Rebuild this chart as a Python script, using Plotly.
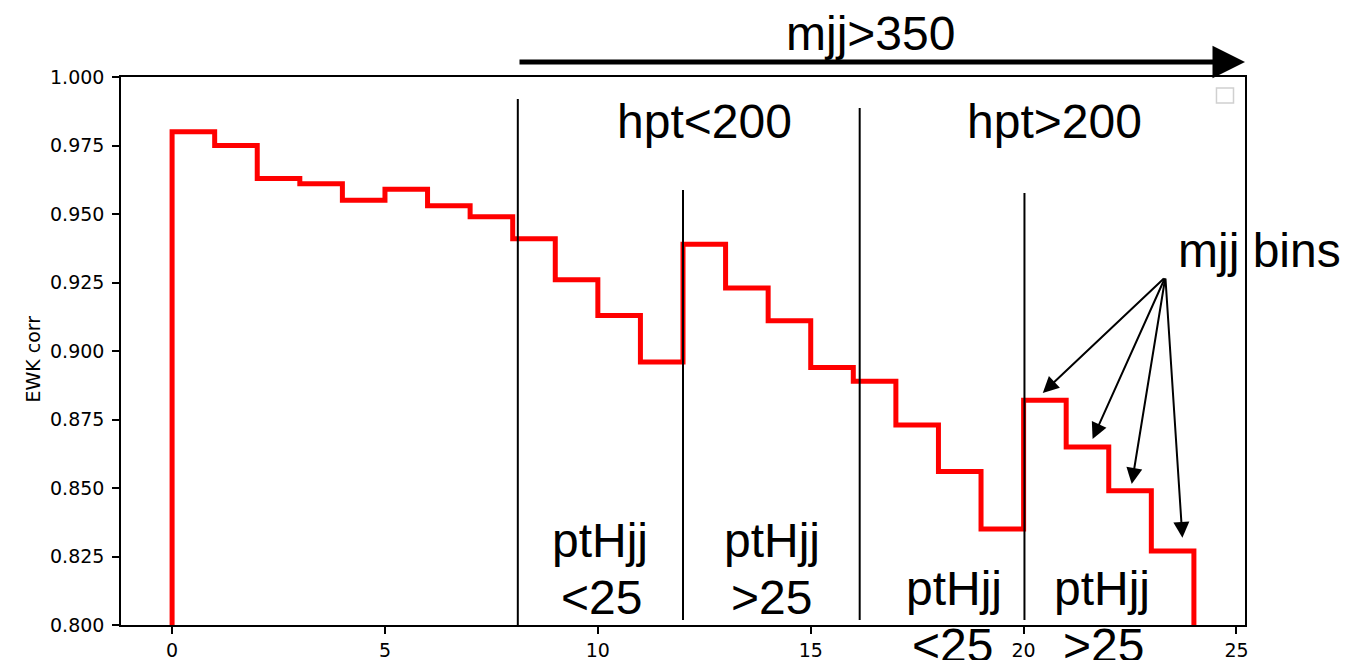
import plotly.graph_objects as go

# bin edges 0..24, EWK correction per bin
bin_edges = list(range(25))
ewk_corr = [0.980, 0.975, 0.963, 0.961, 0.955, 0.959, 0.953, 0.949,
            0.941, 0.926, 0.913, 0.896, 0.939, 0.923, 0.911, 0.894,
            0.889, 0.873, 0.856, 0.835, 0.882, 0.865, 0.849, 0.827]
x_ticks = [0, 5, 10, 15, 20, 25]
y_ticks = [0.800, 0.825, 0.850, 0.875, 0.900, 0.925, 0.950, 0.975, 1.000]
baseline = 0.0

# step outline like matplotlib histtype='step'
xs = [bin_edges[0]] + bin_edges[:-1] + [bin_edges[-1], bin_edges[-1]]
ys = [baseline] + ewk_corr + [ewk_corr[-1], baseline]

fig = go.Figure()
fig.add_trace(go.Scatter(x=xs, y=ys, mode="lines", line=dict(color="#ff0000", width=5, shape="hv"),
                         showlegend=False, hoverinfo="skip"))

TF = "Liberation Sans, Arial, Helvetica, sans-serif"
BIG = 48

# vertical separators
seps = [(8.12, 0.799, 0.992), (12.0, 0.8018, 0.9588), (16.15, 0.8018, 0.9887), (20.02, 0.8018, 0.9577)]
for sx, y0, y1 in seps:
    fig.add_shape(type="line", xref="x", yref="y", x0=sx, x1=sx, y0=y0, y1=y1,
                  line=dict(color="black", width=2))

# empty legend box
fig.add_shape(type="rect", xref="x", yref="y", x0=24.53, x1=24.93, y0=0.9905, y1=0.996,
              line=dict(color="#d0d0d0", width=1.5))

anns = []
# mjj>350 arrow (paper coords, above the axes)
anns.append(dict(x=1.0, y=1.0274, xref="paper", yref="paper", ax=-727, ay=0, axref="pixel", ayref="pixel",
                 text="", showarrow=True, arrowhead=2, arrowsize=1.3, arrowwidth=5, arrowcolor="black"))

def txt(t, x, y, ref):
    return dict(x=x, y=y, xref=ref, yref=ref, text=t, showarrow=False,
                font=dict(family=TF, size=BIG, color="black"), xanchor="center", yanchor="middle")

# in-axes labels (data coords)
for t, tx, ty in [("hpt<200", 12.5, 0.9836), ("hpt>200", 20.73, 0.9836),
                  ("ptHjj", 10.05, 0.831), ("<25", 10.09, 0.8099),
                  ("ptHjj", 14.08, 0.831), (">25", 14.08, 0.8099),
                  ("ptHjj", 18.36, 0.8135), ("ptHjj", 21.83, 0.8135)]:
    anns.append(txt(t, tx, ty, "x"))
    anns[-1]["yref"] = "y"
# labels outside the axes (paper coords)
for t, tx, ty in [("mjj>350", 0.667, 1.0786), ("mjj bins", 1.0133, 0.684),
                  ("<25", 0.740, -0.0383), (">25", 0.8737, -0.0383)]:
    anns.append(txt(t, tx, ty, "paper"))

# mjj bins arrows
tail = (23.33, 0.927)
heads = [(20.45, 0.8847), (21.62, 0.8679), (22.54, 0.8515), (23.73, 0.8318)]
for hx, hy in heads:
    anns.append(dict(x=hx, y=hy, ax=tail[0], ay=tail[1], xref="x", yref="y", axref="x", ayref="y",
                     text="", showarrow=True, arrowhead=2, arrowsize=1.6, arrowwidth=2, arrowcolor="black"))

# y axis title
anns.append(dict(x=-0.078, y=0.485, xref="paper", yref="paper", text="EWK corr", textangle=-90,
                 showarrow=False, font=dict(family="DejaVu Sans", size=19, color="black"),
                 xanchor="center", yanchor="middle"))

axis_common = dict(showgrid=False, zeroline=False, showline=True, mirror=True, linecolor="black", linewidth=1.5,
                   ticks="outside", ticklen=7, tickwidth=1.5, tickcolor="black", automargin=False,
                   tickfont=dict(family="DejaVu Sans", size=19, color="black"))

fig.update_layout(
    width=1364, height=660,
    margin=dict(l=121, r=119, t=77, b=35, autoexpand=False),
    paper_bgcolor="white", plot_bgcolor="white",
    showlegend=False,
    annotations=anns,
    xaxis=dict(range=[-1.2, 25.2], tickvals=x_ticks, ticktext=[str(v) for v in x_ticks], **axis_common),
    yaxis=dict(range=[0.8, 1.0], tickvals=y_ticks, ticktext=[f"{v:.3f}" for v in y_ticks],
               ticklabelstandoff=4, **axis_common),
)

fig.write_html("out.html")
